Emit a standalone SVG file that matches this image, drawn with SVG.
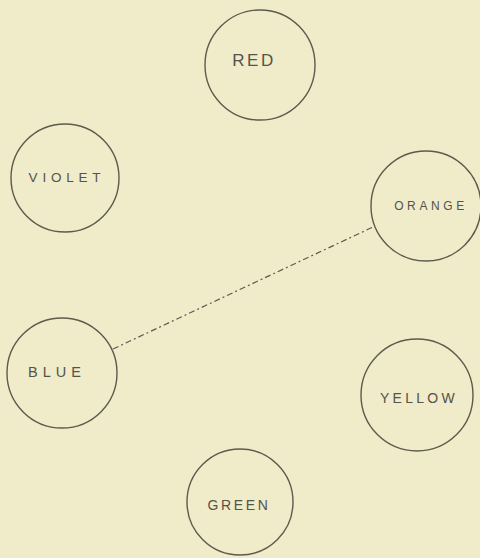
<svg xmlns="http://www.w3.org/2000/svg" width="480" height="558" viewBox="0 0 480 558">
<style>
.bg{fill:#f0ebc9}
.node circle{fill:none;stroke:#5e5a4c;stroke-width:1.4}
.node text{font-family:"Liberation Sans",Arial,sans-serif;fill:#55534a;text-anchor:middle}
.conn line{stroke:#5e5a4c;stroke-width:1.2;stroke-dasharray:6 3 2 3;fill:none}
</style>
<rect class="bg" x="0" y="0" width="480" height="558"/>
<g id="connectors" class="conn">
<line x1="113" y1="349" x2="373" y2="227"/>
</g>
<g id="red" class="node"><circle cx="260" cy="65" r="55"/><text x="254" y="66" font-size="17" letter-spacing="2.5">RED</text></g>
<g id="violet" class="node"><circle cx="65" cy="178" r="54"/><text x="67" y="182" font-size="13.5" letter-spacing="4.8">VIOLET</text></g>
<g id="orange" class="node"><circle cx="426" cy="206" r="55"/><text x="431" y="210" font-size="12" letter-spacing="3.6">ORANGE</text></g>
<g id="blue" class="node"><circle cx="62" cy="373" r="55"/><text x="57" y="377" font-size="14.5" letter-spacing="5">BLUE</text></g>
<g id="yellow" class="node"><circle cx="417" cy="395" r="56"/><text x="419" y="403" font-size="14" letter-spacing="3.3">YELLOW</text></g>
<g id="green" class="node"><circle cx="240" cy="502" r="53"/><text x="239" y="510" font-size="14" letter-spacing="2.6">GREEN</text></g>
</svg>
